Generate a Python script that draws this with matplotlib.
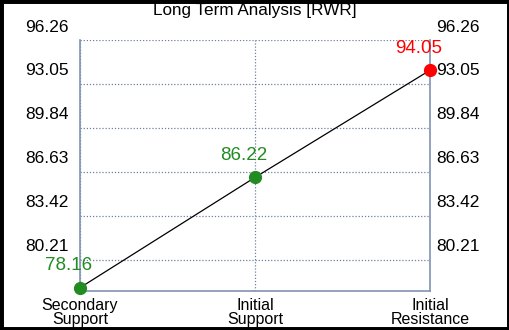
import matplotlib
matplotlib.use("Agg")
import matplotlib.pyplot as plt
import matplotlib.transforms as mtransforms

categories = ["Secondary\nSupport", "Initial\nSupport", "Initial\nResistance"]
values = [78.16, 86.22, 94.05]
point_colors = ["#228b22", "#228b22", "#ff0000"]
yticks = [80.21, 83.42, 86.63, 89.84, 93.05, 96.26]
title = "Long Term Analysis [RWR]"

plt.rcParams['font.family'] = ['Liberation Sans', 'DejaVu Sans']

fig = plt.figure(figsize=(5.1, 3.3), dpi=100)
fig.patch.set_facecolor("white")
fig.patches.append(plt.Rectangle((0, 0), 1, 1, transform=fig.transFigure,
                                 fill=False, edgecolor="black", linewidth=5))
ax = fig.add_axes([80 / 510, 1 - 291 / 330, 350 / 510, 251 / 330])

x = list(range(len(values)))
ax.plot(x, values, color="black", linewidth=0.9, zorder=2)
for xi, v, c in zip(x, values, point_colors):
    ax.plot(xi, v, "o", color=c, markersize=8.5, zorder=3, clip_on=False)
    ax.annotate(f"{v:.2f}", (xi, v), xytext=(-11, 22), textcoords="offset pixels",
                ha="center", va="center", color=c, fontsize=13.5)

ax.set_xlim(0, 2)
ax.set_ylim(77.92, 96.26)
ax.set_xticks(x)
ax.set_xticklabels(categories, fontsize=11.5, linespacing=0.9)
ax.set_yticks(yticks)
ax.set_yticklabels([])
ax.tick_params(axis="both", length=0)
ax.tick_params(axis="x", pad=5)

# y labels sit above their gridlines, on both sides
ytrans = ax.get_yaxis_transform()
up = mtransforms.ScaledTranslation(0, 13 / 100, fig.dpi_scale_trans)
left = mtransforms.ScaledTranslation(-11 / 100, 0, fig.dpi_scale_trans)
right = mtransforms.ScaledTranslation(6 / 100, 0, fig.dpi_scale_trans)
for t in yticks:
    ax.text(0, t, f"{t:.2f}", transform=ytrans + up + left, ha="right",
            va="center", fontsize=12.5, clip_on=False)
    ax.text(1, t, f"{t:.2f}", transform=ytrans + up + right, ha="left",
            va="center", fontsize=12.5, clip_on=False)

ax.grid(True, linestyle=(0, (1, 1.5)), color="#7080a0", linewidth=0.9)
for side in ["left", "right", "bottom"]:
    ax.spines[side].set_color("#7f93b0")
    ax.spines[side].set_linewidth(1.2)
ax.spines["top"].set_visible(False)

fig.text(0.5, 1 - 11 / 330, title, ha="center", va="center", fontsize=12.3)

fig.savefig("out.png", dpi=100)
